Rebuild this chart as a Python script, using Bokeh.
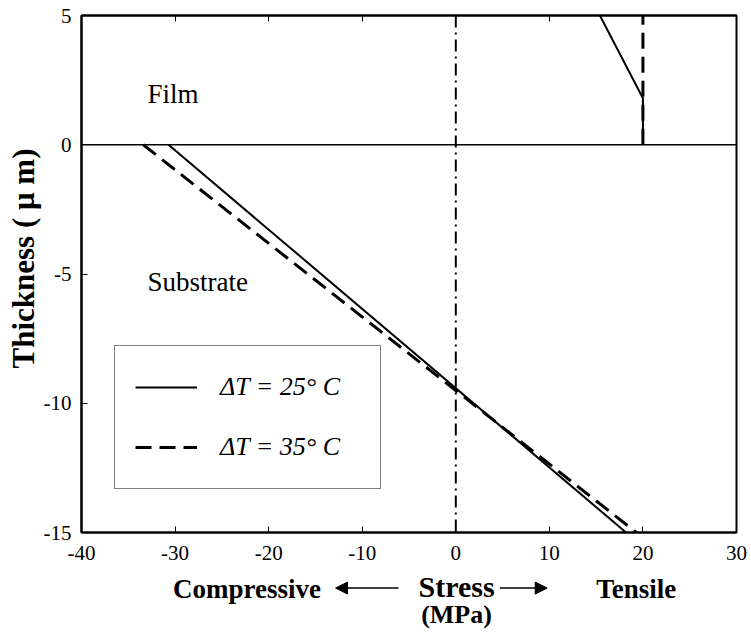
from bokeh.plotting import figure
from bokeh.layouts import column
from bokeh.models import (Range1d, LinearAxis, FixedTicker, Span, Label, Arrow,
                          NormalHead, Legend, LegendItem, CustomJSTickFormatter)
from bokeh.embed import file_html
from bokeh.resources import INLINE

# ---- data ----
film_25_x = [20.0, 20.0, 15.4]
film_25_y = [0.0, 1.8, 5.0]
sub_25_x = [-30.7, 18.2]
sub_25_y = [0.0, -15.0]
film_35_x = [20.0, 20.0]
film_35_y = [0.0, 5.0]
sub_35_x = [-33.4, 19.3]
sub_35_y = [0.0, -15.0]
x_ticks = [-40, -30, -20, -10, 0, 10, 20, 30]
y_ticks = [-15, -10, -5, 0, 5]
series_labels = ["\u0394T = 25\u00b0 C", "\u0394T = 35\u00b0 C"]

FONT = "Liberation Serif"
X0, X1 = -40, 30

p = figure(width=751, height=569, x_range=Range1d(X0, X1), y_range=Range1d(-15, 5),
           output_backend="svg", toolbar_location=None,
           min_border_left=81, min_border_right=15, min_border_top=15, min_border_bottom=37)
p.grid.visible = False
p.background_fill_color = "white"
p.border_fill_color = "white"
p.outline_line_color = "black"
p.outline_line_width = 2
p.outline_line_alpha = 1

p.xaxis.ticker = FixedTicker(ticks=x_ticks)
p.yaxis.ticker = FixedTicker(ticks=y_ticks)
p.xaxis.formatter = CustomJSTickFormatter(code="return tick.toString()")
p.yaxis.formatter = CustomJSTickFormatter(code="return tick.toString()")
for axl in (p.xaxis, p.yaxis):
    axl.major_tick_in = 6
    axl.major_tick_out = 0
    axl.minor_tick_in = 0
    axl.minor_tick_out = 0
    axl.axis_line_width = 2
    axl.axis_line_color = "black"
    axl.major_tick_line_color = "black"
    axl.major_tick_line_width = 1
    axl.major_label_text_font = FONT
    axl.major_label_text_font_size = "21px"
    axl.major_label_text_color = "black"

p.xaxis.major_label_standoff = 13
p.yaxis.major_label_standoff = 10

p.yaxis.axis_label = "\u00a0\u00a0\u00a0\u00a0Thickness ( \u03bc m)"
p.yaxis.axis_label_text_font = FONT
p.yaxis.axis_label_text_font_style = "bold"
p.yaxis.axis_label_text_font_size = "31px"
p.yaxis.axis_label_text_color = "black"
p.yaxis.axis_label_standoff = 0

top = LinearAxis(ticker=FixedTicker(ticks=x_ticks),
                 formatter=CustomJSTickFormatter(code="return ''"),
                 major_tick_in=6, major_tick_out=0, minor_tick_in=0, minor_tick_out=0,
                 axis_line_width=2, major_label_standoff=0,
                 major_label_text_font_size="1px")
p.add_layout(top, "above")

# reference lines
p.add_layout(Span(location=0, dimension="width", line_color="black", line_width=1.5))
p.add_layout(Span(location=0, dimension="height", line_color="black", line_width=2,
                  line_dash="12 5 2 5"))

r25 = p.multi_line(xs=[film_25_x, sub_25_x], ys=[film_25_y, sub_25_y],
                   line_color="black", line_width=2)
r35 = p.multi_line(xs=[film_35_x, sub_35_x], ys=[film_35_y, sub_35_y],
                   line_color="black", line_width=3, line_dash="16 8")

legend = Legend(items=[LegendItem(label=series_labels[0], renderers=[r25]),
                       LegendItem(label=series_labels[1], renderers=[r35])],
                location=(33, 43), padding=20, spacing=18, glyph_width=62,
                glyph_height=42, label_height=42, label_width=140, label_standoff=23,
                border_line_color="black", border_line_width=1.5, margin=0,
                label_text_font=FONT, label_text_font_size="26px",
                label_text_font_style="italic", label_text_color="black",
                background_fill_alpha=1)
p.add_layout(legend)

def lab(fig, x, y, text, size, style="normal", align="left", baseline="middle"):
    fig.add_layout(Label(x=x, y=y, text=text, text_font=FONT, text_font_size=size,
                         text_font_style=style, text_align=align, text_baseline=baseline,
                         text_color="black"))

lab(p, -32.95, 1.98, "Film", "27px")
lab(p, -32.95, -5.32, "Substrate", "27px")

# ---- strip below the plot holding the stress caption (same x scale) ----
q = figure(width=751, height=63, x_range=p.x_range, y_range=Range1d(-18.868, -16.431),
           output_backend="svg", toolbar_location=None,
           min_border_left=81, min_border_right=15, min_border_top=0, min_border_bottom=0)
q.axis.visible = False
q.grid.visible = False
q.outline_line_color = None
q.background_fill_color = "white"
q.border_fill_color = "white"

lab(q, -22.31, -17.17, "Compressive", "27px", "bold", "center", "middle")
lab(q, 0.08, -17.09, "Stress", "30px", "bold", "center", "middle")
lab(q, 0.08, -18.17, "(MPa)", "26px", "bold", "center", "middle")
lab(q, 19.29, -17.17, "Tensile", "27px", "bold", "center", "middle")

q.add_layout(Arrow(end=NormalHead(size=12, fill_color="black", line_color="black"),
                   x_start=-6.12, y_start=-17.15, x_end=-12.85, y_end=-17.15,
                   line_width=1.5, line_color="black"))
q.add_layout(Arrow(end=NormalHead(size=12, fill_color="black", line_color="black"),
                   x_start=4.71, y_start=-17.15, x_end=9.77, y_end=-17.15,
                   line_width=1.5, line_color="black"))

layout = column(p, q, spacing=0)
open("out.html", "w").write(file_html(layout, INLINE))
